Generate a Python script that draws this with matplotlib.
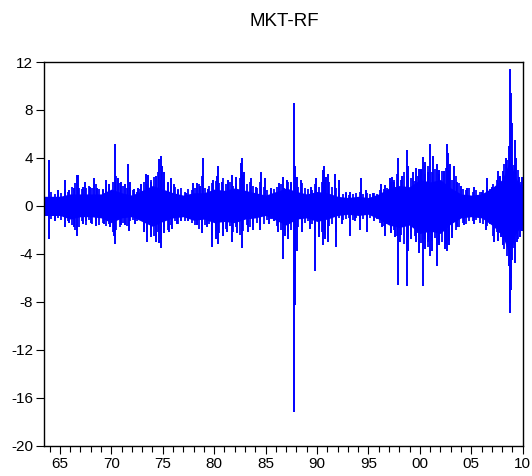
import numpy as np
import matplotlib
matplotlib.use("Agg")
import matplotlib.pyplot as plt
from matplotlib.ticker import MultipleLocator, FixedLocator

plt.rcParams['font.family'] = ['Liberation Sans', 'DejaVu Sans']
plt.rcParams['axes.unicode_minus'] = False

# dense band of daily excess returns (rough envelope per year, %)
band_t = [1963.5, 1964, 1965, 1966, 1967, 1968, 1969, 1970, 1971, 1972,
          1973, 1974, 1975, 1976, 1977, 1978, 1979, 1980, 1981, 1982,
          1983, 1984, 1985, 1986, 1987, 1988, 1989, 1990, 1991, 1992,
          1993, 1994, 1995, 1996, 1997, 1998, 1999, 2000, 2001, 2002,
          2003, 2004, 2005, 2006, 2007, 2008, 2008.75, 2009, 2009.25, 2010]
band_hi = [0.8, 0.8, 0.8, 1.0, 1.0, 1.0, 1.0, 1.4, 1.1, 0.9,
           1.3, 1.7, 1.4, 1.1, 0.9, 1.1, 1.1, 1.4, 1.3, 1.5,
           1.3, 1.1, 0.9, 1.2, 1.5, 1.2, 1.0, 1.2, 1.1, 0.8,
           0.7, 0.8, 0.7, 1.0, 1.5, 1.7, 1.6, 2.2, 2.0, 2.2,
           1.5, 1.0, 0.9, 1.0, 1.5, 2.2, 3.8, 3.2, 2.4, 1.5]
band_lo = [-0.8, -0.8, -0.8, -1.1, -0.9, -0.9, -1.0, -1.4, -1.0, -0.9,
           -1.3, -1.7, -1.3, -1.0, -0.9, -1.2, -1.1, -1.4, -1.3, -1.4,
           -1.1, -1.0, -0.8, -1.2, -1.6, -1.1, -1.0, -1.3, -1.1, -0.8,
           -0.7, -0.8, -0.7, -1.1, -1.6, -1.8, -1.6, -2.3, -2.1, -2.3,
           -1.5, -1.0, -0.9, -1.0, -1.6, -2.4, -4.2, -3.4, -2.4, -1.5]

# moderate days poking out of the band, three per year (early, mid, late)
mid_years = list(range(1964, 2010))
mid_up = [[1.2, 1.0, 1.3], [1.1, 1.4, 1.2], [1.6, 1.9, 1.5], [1.4, 1.5, 1.7],
          [1.5, 1.8, 1.4], [1.4, 1.6, 1.5], [2.0, 2.5, 1.9], [1.7, 1.5, 1.6],
          [1.3, 1.2, 1.4], [2.0, 1.8, 2.2], [2.4, 2.8, 2.2], [2.2, 1.9, 1.7],
          [1.6, 1.4, 1.5], [1.2, 1.4, 1.3], [1.5, 1.8, 2.5], [1.5, 1.7, 1.9],
          [2.1, 1.9, 2.3], [1.8, 2.0, 1.7], [1.9, 2.3, 2.6], [1.8, 2.0, 1.7],
          [1.5, 2.0, 1.6], [1.3, 1.2, 1.4], [1.6, 1.8, 1.5], [2.0, 1.8, 2.4],
          [1.6, 1.9, 1.5], [1.4, 1.3, 1.8], [1.6, 2.0, 2.2], [2.0, 1.6, 1.5],
          [1.1, 1.0, 1.2], [0.9, 1.0, 1.1], [1.2, 1.0, 1.1], [1.0, 1.1, 1.0],
          [1.3, 1.4, 1.5], [2.0, 2.2, 2.7], [2.2, 2.8, 2.5], [2.3, 2.1, 2.5],
          [3.0, 2.7, 3.3], [2.8, 3.1, 2.7], [2.9, 3.2, 3.0], [2.2, 2.5, 1.9],
          [1.4, 1.3, 1.5], [1.2, 1.3, 1.2], [1.3, 1.6, 1.4], [1.8, 2.2, 2.4],
          [3.5, 3.8, 4.5], [3.4, 3.0, 2.0]]
mid_dn = [[-1.1, -1.2, -1.0], [-1.2, -1.1, -1.3], [-1.6, -2.0, -1.8], [-1.3, -1.6, -1.2],
          [-1.5, -1.3, -1.6], [-1.4, -1.7, -1.5], [-2.2, -2.0, -1.8], [-1.4, -1.7, -1.3],
          [-1.2, -1.3, -1.1], [-2.0, -1.9, -2.4], [-2.5, -2.2, -2.8], [-1.8, -2.0, -1.6],
          [-1.3, -1.5, -1.2], [-1.3, -1.2, -1.4], [-1.6, -1.9, -2.0], [-1.6, -1.5, -2.4],
          [-2.1, -2.3, -1.9], [-1.9, -1.7, -2.2], [-1.8, -2.4, -2.1], [-1.6, -1.8, -1.5],
          [-1.4, -1.6, -1.5], [-1.2, -1.1, -1.3], [-1.7, -2.0, -1.6], [-2.2, -2.0, -3.2],
          [-1.8, -1.5, -1.4], [-1.3, -1.5, -2.0], [-1.9, -2.2, -2.4], [-1.7, -1.5, -2.2],
          [-1.0, -1.2, -1.1], [-1.0, -1.2, -1.0], [-1.3, -1.1, -1.2], [-1.0, -0.9, -1.1],
          [-1.4, -1.7, -1.5], [-2.2, -2.0, -2.5], [-2.4, -3.2, -2.6], [-2.2, -2.5, -2.3],
          [-3.1, -2.8, -3.4], [-2.9, -2.7, -3.1], [-3.0, -3.2, -2.9], [-2.2, -2.0, -1.8],
          [-1.4, -1.5, -1.3], [-1.3, -1.2, -1.4], [-1.5, -1.7, -1.3], [-2.5, -2.2, -2.3],
          [-3.6, -4.2, -6.0], [-3.5, -2.8, -2.0]]
mid_frac = [0.15, 0.5, 0.82]

# single large days
up_t = [1963.9, 1964.8, 1965.5, 1965.9, 1966.4, 1966.7, 1966.8, 1967.2, 1967.4, 1967.9,
        1968.3, 1968.6, 1969.2, 1969.5, 1969.8, 1970.4, 1970.6, 1970.9, 1971.3, 1971.6,
        1971.8, 1972.2, 1972.6, 1972.9, 1973.4, 1973.6, 1973.9, 1974.3, 1974.6, 1974.8,
        1974.95, 1975.1, 1975.5, 1975.8, 1976.1, 1976.5, 1977.3, 1977.9, 1978.3, 1978.6,
        1978.9, 1979.4, 1979.9, 1980.3, 1980.4, 1980.8, 1981.3, 1981.7, 1982.1, 1982.6,
        1982.7, 1982.9, 1983.6, 1984.1, 1984.6, 1984.9, 1985.5, 1986.3, 1986.7, 1987.1,
        1987.5, 1987.8, 1987.85, 1988.1, 1988.4, 1989.4, 1989.9, 1990.6, 1990.7, 1990.9,
        1991.1, 1991.7, 1992.1, 1992.8, 1993.2, 1994.3, 1994.8, 1995.4, 1996.2, 1996.6,
        1997.1, 1997.3, 1997.5, 1997.9, 1998.3, 1998.7, 1998.8, 1999.3, 1999.6, 1999.9,
        2000.1, 2000.3, 2000.5, 2000.8, 2001.0, 2001.3, 2001.7, 2001.9, 2002.3, 2002.6,
        2002.7, 2002.9, 2003.3, 2003.6, 2004.0, 2004.6, 2005.3, 2006.0, 2006.5, 2007.0,
        2007.6, 2007.8, 2008.1, 2008.4, 2008.7, 2008.8, 2008.85, 2008.9, 2008.95, 2009.2,
        2009.3, 2009.6, 2009.9]
up_v = [3.8, 1.3, 2.2, 1.3, 1.5, 2.6, 2.6, 1.6, 2.0, 1.6,
        2.3, 1.5, 1.3, 2.2, 1.8, 5.2, 2.3, 2.0, 1.8, 3.5,
        2.0, 1.4, 1.5, 1.8, 2.7, 2.6, 2.0, 2.5, 3.9, 4.2,
        3.3, 2.8, 2.0, 2.3, 1.8, 1.3, 1.1, 1.9, 1.9, 1.7,
        4.0, 1.4, 2.2, 2.5, 3.3, 2.0, 2.2, 2.6, 2.4, 3.6,
        4.0, 2.8, 2.3, 1.6, 2.8, 2.3, 1.5, 1.9, 2.4, 2.2,
        2.0, 8.6, 3.3, 2.4, 2.2, 1.6, 2.3, 3.0, 3.3, 2.4,
        2.7, 2.7, 2.2, 1.1, 1.2, 2.3, 1.3, 1.1, 1.8, 1.75,
        2.3, 2.4, 2.0, 4.0, 2.5, 4.7, 3.3, 2.8, 3.2, 3.1,
        3.1, 4.1, 3.7, 2.8, 5.2, 4.2, 3.5, 3.0, 2.9, 5.2,
        4.4, 3.5, 3.3, 2.0, 1.7, 1.5, 1.6, 1.2, 2.3, 1.6,
        2.9, 2.5, 2.9, 4.0, 5.0, 11.4, 9.4, 7.0, 6.9, 5.5,
        4.0, 2.4, 2.4]

down_t = [1963.9, 1964.5, 1965.5, 1965.9, 1966.4, 1966.7, 1967.2, 1967.5, 1968.0, 1968.5,
          1969.3, 1969.9, 1970.3, 1970.4, 1970.9, 1971.3, 1971.7, 1972.3, 1972.8, 1973.2,
          1973.5, 1973.9, 1974.3, 1974.6, 1974.8, 1975.1, 1975.6, 1975.9, 1976.4, 1976.8,
          1977.5, 1978.3, 1978.8, 1979.3, 1979.8, 1980.2, 1980.4, 1980.9, 1981.2, 1981.7,
          1982.2, 1982.7, 1983.3, 1983.8, 1984.5, 1985.3, 1985.8, 1986.2, 1986.7, 1986.9,
          1987.2, 1987.8, 1987.85, 1987.9, 1988.1, 1988.5, 1989.3, 1989.8, 1990.2, 1990.6,
          1990.8, 1991.1, 1991.8, 1992.4, 1993.2, 1993.7, 1994.2, 1994.9, 1995.5, 1996.3,
          1996.6, 1997.2, 1997.6, 1997.9, 1998.1, 1998.7, 1998.8, 1999.1, 1999.6, 1999.9,
          2000.3, 2000.5, 2000.8, 2001.0, 2001.2, 2001.7, 2001.9, 2002.4, 2002.6, 2002.8,
          2003.1, 2003.6, 2004.3, 2005.3, 2006.4, 2006.8, 2007.2, 2007.6, 2007.9, 2008.1,
          2008.5, 2008.7, 2008.75, 2008.8, 2008.85, 2008.9, 2009.0, 2009.2, 2009.4, 2009.7,
          2009.9]
down_v = [-2.8, -1.3, -1.8, -1.4, -1.8, -2.5, -1.5, -1.3, -1.4, -1.7,
          -1.5, -1.8, -2.5, -3.2, -1.6, -1.6, -2.1, -1.5, -1.2, -2.2,
          -3.0, -2.6, -3.0, -3.1, -3.5, -2.3, -2.2, -1.9, -1.5, -1.3,
          -1.3, -1.6, -2.3, -1.8, -3.4, -2.8, -3.2, -2.5, -2.2, -3.0,
          -2.3, -3.5, -2.2, -2.0, -2.0, -1.5, -1.3, -2.2, -4.4, -2.5,
          -2.8, -17.2, -8.3, -5.6, -3.8, -2.2, -1.9, -5.4, -2.6, -3.3,
          -2.8, -3.0, -3.4, -1.5, -2.5, -1.3, -2.0, -2.2, -1.3, -1.8,
          -2.5, -2.3, -2.6, -6.6, -3.0, -6.7, -3.8, -2.8, -3.0, -3.9,
          -6.7, -3.6, -3.0, -4.2, -3.8, -5.0, -3.3, -3.6, -3.8, -3.3,
          -2.7, -1.8, -1.6, -1.5, -2.0, -1.5, -3.0, -2.9, -2.6, -3.3,
          -3.1, -5.0, -8.1, -8.9, -7.0, -5.5, -4.5, -4.8, -3.0, -2.6,
          -2.1]

fig = plt.figure(figsize=(5.32, 4.76), dpi=100)
ax = fig.add_axes([0.0836, 0.0637, 0.899, 0.806])

blue = (0, 0, 1)
ax.fill_between(band_t, band_lo, band_hi, color=blue, lw=0)

mid_t = [y + f for y in mid_years for f in mid_frac]
ax.vlines(mid_t, 0, [v for row in mid_up for v in row], color=blue, lw=1.3)
ax.vlines(mid_t, 0, [v for row in mid_dn for v in row], color=blue, lw=1.3)
ax.vlines(up_t, 0, up_v, color=blue, lw=1.4)
ax.vlines(down_t, 0, down_v, color=blue, lw=1.4)

ax.set_xlim(1963.5, 2010.0)
ax.set_ylim(-20, 12)
ax.yaxis.set_major_locator(MultipleLocator(4))
ax.xaxis.set_major_locator(FixedLocator(list(range(1965, 2011, 5))))
ax.xaxis.set_minor_locator(MultipleLocator(1))
ax.set_xticklabels(['%02d' % (y % 100) for y in range(1965, 2011, 5)])
ax.tick_params(axis='both', which='major', direction='out', length=6, width=0.8,
               labelsize=11, colors='black', pad=2)
ax.tick_params(axis='x', which='minor', direction='out', length=4, width=0.8)
for s in ax.spines.values():
    s.set_linewidth(1.0)

fig.text(0.534, 1 - 22 / 476, 'MKT-RF', ha='center', va='center', fontsize=13.5)

fig.savefig('out.png', dpi=100)
